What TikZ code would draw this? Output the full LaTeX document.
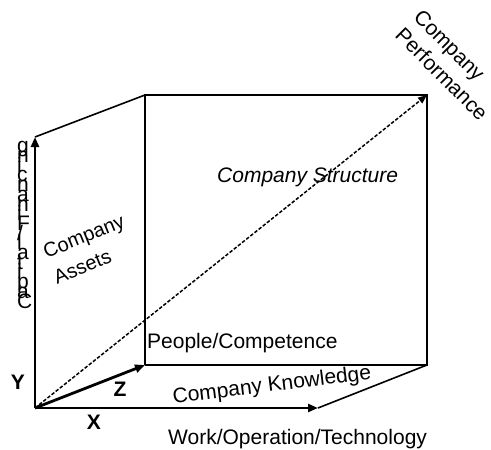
\documentclass[tikz,border=0pt]{standalone}
\usepackage{fontspec}
\setmainfont{Liberation Sans}
\usetikzlibrary{arrows.meta}
\begin{document}
\begin{tikzpicture}[x=1pt,y=-1pt,
  lbl/.style={inner sep=0pt,font=\fontsize{21}{26}\selectfont},
  axis/.style={line width=2.8pt,-{Triangle[length=10pt,width=8pt]}},
  edge/.style={line width=1.6pt},
  diag/.style={line width=1.5pt,dash pattern=on 3.5pt off 1.8pt,-{Triangle[length=9pt,width=7pt]}}]
\useasboundingbox (0,0) rectangle (491,450);
% corners
\coordinate (O) at (35,408);
\coordinate (Ytip) at (35,137);
\coordinate (Xtip) at (318,408);
\coordinate (Ztip) at (145,365);
\coordinate (TL) at (145,95);
\coordinate (TR) at (427,95);
\coordinate (BR) at (427,365);
% cube edges
\draw[edge] (Ztip) -- (TL) -- (TR) -- (BR) -- (Ztip);
\draw[edge] (Ytip) -- (TL);
\draw[edge] (Xtip) -- (BR);
% dashed diagonal
\draw[diag] (O) -- (TR);
% axes
\draw[axis] (O) -- (Ytip);
\draw[axis] (O) -- (Xtip);
\draw[axis] (O) -- (Ztip);
% axis letters
\node[lbl,font=\fontsize{21}{26}\selectfont\bfseries] (xl) at (94,422) {X};
\node[lbl,font=\fontsize{21}{26}\selectfont\bfseries] (yl) at (18,382) {Y};
\node[lbl,font=\fontsize{21}{26}\selectfont\bfseries] (zl) at (120,389) {Z};
% stacked vertical label
\foreach \c [count=\i from 0] in {C,a,p,i,t,a,l,/,F,i,n,a,n,c,i,n,g}
  \node[lbl,anchor=base west] (v\i) at (17,{308-9.7*\i}) {\c};
% labels
\node[lbl,anchor=base west] (pc) at (147,348) {People/Competence};
\node[lbl,anchor=base west] (wot) at (168,444) {Work/Operation/Technology};
\node[lbl,anchor=base west,font=\fontsize{21}{26}\selectfont\itshape] (cs) at (217,182) {Company Structure};
\node[lbl,rotate=7] (ck) at (272,386) {Company Knowledge};
\node[lbl,rotate=22,align=left,font=\fontsize{20}{28}\selectfont] (ca) at (89,249) {Company\\Assets};
\node[lbl,rotate=-45,align=left] (cp) at (451,65) {Company\\Performance};
\end{tikzpicture}
\end{document}
